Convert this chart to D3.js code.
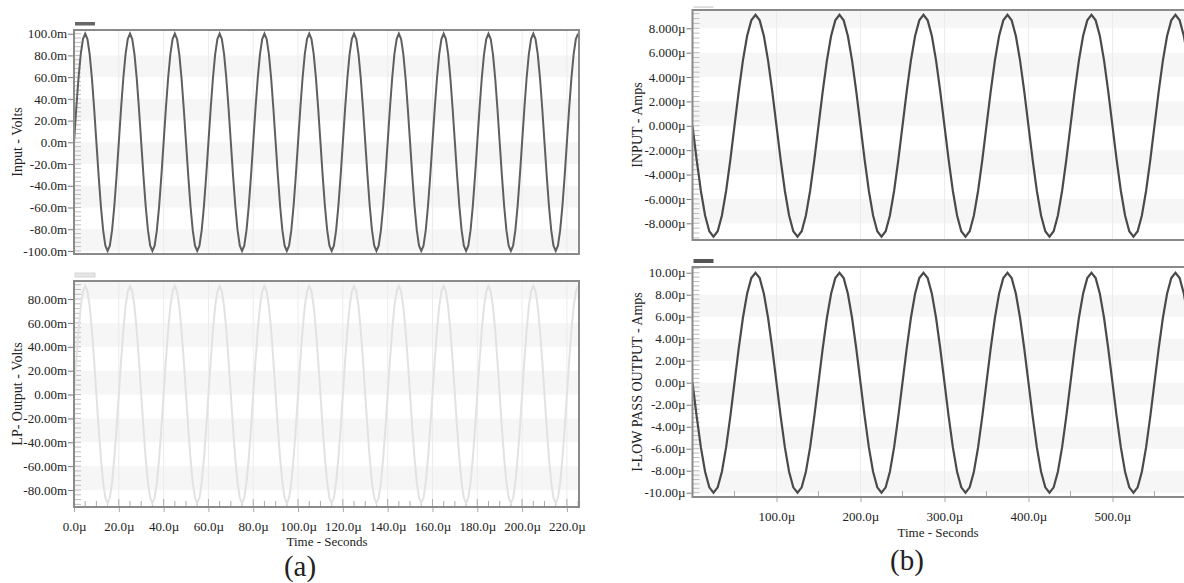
<!DOCTYPE html>
<html>
<head>
<meta charset="utf-8">
<script src="https://cdn.jsdelivr.net/npm/d3@7"></script>
<style>
body { margin: 0; background: #fff; }
svg { display: block; }
text { font-family: "Liberation Serif", "Times New Roman", serif; fill: #222; }
</style>
</head>
<body>
<svg id="chart" width="1184" height="583"></svg>
<script>
// sample step of the two simulations (micro seconds)
var stepA = 1, stepB = 5;

// (a) top : Input - Volts (milli volts)
var inputVolts = [
  0,30.9,58.8,80.9,95.1,100,95.1,80.9,58.8,30.9,0,-30.9,-58.8,-80.9,-95.1,-100,-95.1,-80.9,-58.8,-30.9,
  0,30.9,58.8,80.9,95.1,100,95.1,80.9,58.8,30.9,0,-30.9,-58.8,-80.9,-95.1,-100,-95.1,-80.9,-58.8,-30.9,
  0,30.9,58.8,80.9,95.1,100,95.1,80.9,58.8,30.9,0,-30.9,-58.8,-80.9,-95.1,-100,-95.1,-80.9,-58.8,-30.9,
  0,30.9,58.8,80.9,95.1,100,95.1,80.9,58.8,30.9,0,-30.9,-58.8,-80.9,-95.1,-100,-95.1,-80.9,-58.8,-30.9,
  0,30.9,58.8,80.9,95.1,100,95.1,80.9,58.8,30.9,0,-30.9,-58.8,-80.9,-95.1,-100,-95.1,-80.9,-58.8,-30.9,
  0,30.9,58.8,80.9,95.1,100,95.1,80.9,58.8,30.9,0,-30.9,-58.8,-80.9,-95.1,-100,-95.1,-80.9,-58.8,-30.9,
  0,30.9,58.8,80.9,95.1,100,95.1,80.9,58.8,30.9,0,-30.9,-58.8,-80.9,-95.1,-100,-95.1,-80.9,-58.8,-30.9,
  0,30.9,58.8,80.9,95.1,100,95.1,80.9,58.8,30.9,0,-30.9,-58.8,-80.9,-95.1,-100,-95.1,-80.9,-58.8,-30.9,
  0,30.9,58.8,80.9,95.1,100,95.1,80.9,58.8,30.9,0,-30.9,-58.8,-80.9,-95.1,-100,-95.1,-80.9,-58.8,-30.9,
  0,30.9,58.8,80.9,95.1,100,95.1,80.9,58.8,30.9,0,-30.9,-58.8,-80.9,-95.1,-100,-95.1,-80.9,-58.8,-30.9,
  0,30.9,58.8,80.9,95.1,100,95.1,80.9,58.8,30.9,0,-30.9,-58.8,-80.9,-95.1,-100,-95.1,-80.9,-58.8,-30.9,
  0,30.9,58.8,80.9,95.1,100
];

// (a) bottom : LP- Output - Volts (milli volts)
var lpOutputVolts = [
  0,28.1,53.5,73.6,86.5,91,86.5,73.6,53.5,28.1,0,-28.1,-53.5,-73.6,-86.5,-91,-86.5,-73.6,-53.5,-28.1,
  0,28.1,53.5,73.6,86.5,91,86.5,73.6,53.5,28.1,0,-28.1,-53.5,-73.6,-86.5,-91,-86.5,-73.6,-53.5,-28.1,
  0,28.1,53.5,73.6,86.5,91,86.5,73.6,53.5,28.1,0,-28.1,-53.5,-73.6,-86.5,-91,-86.5,-73.6,-53.5,-28.1,
  0,28.1,53.5,73.6,86.5,91,86.5,73.6,53.5,28.1,0,-28.1,-53.5,-73.6,-86.5,-91,-86.5,-73.6,-53.5,-28.1,
  0,28.1,53.5,73.6,86.5,91,86.5,73.6,53.5,28.1,0,-28.1,-53.5,-73.6,-86.5,-91,-86.5,-73.6,-53.5,-28.1,
  0,28.1,53.5,73.6,86.5,91,86.5,73.6,53.5,28.1,0,-28.1,-53.5,-73.6,-86.5,-91,-86.5,-73.6,-53.5,-28.1,
  0,28.1,53.5,73.6,86.5,91,86.5,73.6,53.5,28.1,0,-28.1,-53.5,-73.6,-86.5,-91,-86.5,-73.6,-53.5,-28.1,
  0,28.1,53.5,73.6,86.5,91,86.5,73.6,53.5,28.1,0,-28.1,-53.5,-73.6,-86.5,-91,-86.5,-73.6,-53.5,-28.1,
  0,28.1,53.5,73.6,86.5,91,86.5,73.6,53.5,28.1,0,-28.1,-53.5,-73.6,-86.5,-91,-86.5,-73.6,-53.5,-28.1,
  0,28.1,53.5,73.6,86.5,91,86.5,73.6,53.5,28.1,0,-28.1,-53.5,-73.6,-86.5,-91,-86.5,-73.6,-53.5,-28.1,
  0,28.1,53.5,73.6,86.5,91,86.5,73.6,53.5,28.1,0,-28.1,-53.5,-73.6,-86.5,-91,-86.5,-73.6,-53.5,-28.1,
  0,28.1,53.5,73.6,86.5,91
];

// (b) top : INPUT - Amps (micro amps)
var inputAmps = [
  0,-2.81,-5.35,-7.36,-8.65,-9.1,-8.65,-7.36,-5.35,-2.81,0,2.81,5.35,7.36,8.65,9.1,8.65,7.36,5.35,2.81,
  0,-2.81,-5.35,-7.36,-8.65,-9.1,-8.65,-7.36,-5.35,-2.81,0,2.81,5.35,7.36,8.65,9.1,8.65,7.36,5.35,2.81,
  0,-2.81,-5.35,-7.36,-8.65,-9.1,-8.65,-7.36,-5.35,-2.81,0,2.81,5.35,7.36,8.65,9.1,8.65,7.36,5.35,2.81,
  0,-2.81,-5.35,-7.36,-8.65,-9.1,-8.65,-7.36,-5.35,-2.81,0,2.81,5.35,7.36,8.65,9.1,8.65,7.36,5.35,2.81,
  0,-2.81,-5.35,-7.36,-8.65,-9.1,-8.65,-7.36,-5.35,-2.81,0,2.81,5.35,7.36,8.65,9.1,8.65,7.36,5.35,2.81,
  0,-2.81,-5.35,-7.36,-8.65,-9.1,-8.65,-7.36,-5.35,-2.81,0,2.81,5.35,7.36,8.65,9.1,8.65,7.36,5.35
];

// (b) bottom : I-LOW PASS OUTPUT - Amps (micro amps)
var lowPassAmps = [
  0,-3.09,-5.88,-8.09,-9.51,-10,-9.51,-8.09,-5.88,-3.09,0,3.09,5.88,8.09,9.51,10,9.51,8.09,5.88,3.09,
  0,-3.09,-5.88,-8.09,-9.51,-10,-9.51,-8.09,-5.88,-3.09,0,3.09,5.88,8.09,9.51,10,9.51,8.09,5.88,3.09,
  0,-3.09,-5.88,-8.09,-9.51,-10,-9.51,-8.09,-5.88,-3.09,0,3.09,5.88,8.09,9.51,10,9.51,8.09,5.88,3.09,
  0,-3.09,-5.88,-8.09,-9.51,-10,-9.51,-8.09,-5.88,-3.09,0,3.09,5.88,8.09,9.51,10,9.51,8.09,5.88,3.09,
  0,-3.09,-5.88,-8.09,-9.51,-10,-9.51,-8.09,-5.88,-3.09,0,3.09,5.88,8.09,9.51,10,9.51,8.09,5.88,3.09,
  0,-3.09,-5.88,-8.09,-9.51,-10,-9.51,-8.09,-5.88,-3.09,0,3.09,5.88,8.09,9.51,10,9.51,8.09,5.88
];

// tick values and labels
var inputVoltTicks = [100,80,60,40,20,0,-20,-40,-60,-80,-100];
var inputVoltLabels = ["100.0m","80.0m","60.0m","40.0m","20.0m","0.0m","-20.0m","-40.0m","-60.0m","-80.0m","-100.0m"];
var lpVoltTicks = [80,60,40,20,0,-20,-40,-60,-80];
var lpVoltLabels = ["80.00m","60.00m","40.00m","20.00m","0.00m","-20.00m","-40.00m","-60.00m","-80.00m"];
var inputAmpTicks = [8,6,4,2,0,-2,-4,-6,-8];
var inputAmpLabels = ["8.000µ","6.000µ","4.000µ","2.000µ","0.000µ","-2.000µ","-4.000µ","-6.000µ","-8.000µ"];
var lowPassAmpTicks = [10,8,6,4,2,0,-2,-4,-6,-8,-10];
var lowPassAmpLabels = ["10.00µ","8.00µ","6.00µ","4.00µ","2.00µ","0.00µ","-2.00µ","-4.00µ","-6.00µ","-8.00µ","-10.00µ"];
var timeTicksA = [0,20,40,60,80,100,120,140,160,180,200,220];
var timeLabelsA = ["0.0µ","20.0µ","40.0µ","60.0µ","80.0µ","100.0µ","120.0µ","140.0µ","160.0µ","180.0µ","200.0µ","220.0µ"];
var timeTicksB = [100,200,300,400,500];
var timeLabelsB = ["100.0µ","200.0µ","300.0µ","400.0µ","500.0µ"];

// shaded stripes between grid rows
var inputVoltBands = [[60,80],[20,40],[-20,0],[-60,-40],[-100,-80]];
var lpVoltBands = [[80,100],[40,60],[0,20],[-40,-20],[-80,-60]];
var inputAmpBands = [[8,10],[4,6],[0,2],[-4,-2],[-8,-6]];
var lowPassAmpBands = [[6,8],[2,4],[-2,0],[-6,-4],[-10,-8]];

var svg = d3.select("#chart");

var panels = [
  { id: "a1", left: 74, right: 579, top: 30, bottom: 254, xDom: [0, 225.4], yDom: [-102.8, 103.4],
    values: inputVolts, step: stepA, color: "#5f5f5f", width: 2,
    yTicks: inputVoltTicks, yLabels: inputVoltLabels, minor: 4, bands: inputVoltBands,
    grid: timeTicksA, title: "Input - Volts", titleX: 17,
    legend: { y: 22, h: 3.5, color: "#666", stroke: "none" } },
  { id: "a2", left: 74, right: 579, top: 281, bottom: 507, xDom: [0, 225.4], yDom: [-94.2, 95.1],
    values: lpOutputVolts, step: stepA, color: "#e2e2e2", width: 2,
    yTicks: lpVoltTicks, yLabels: lpVoltLabels, minor: 4, bands: lpVoltBands,
    grid: timeTicksA, title: "LP- Output - Volts", titleX: 17,
    xTicks: timeTicksA, xLabels: timeLabelsA, xMinor: 5, xPad: 10,
    legend: { y: 273, h: 4, color: "#e6e6e6", stroke: "#cfcfcf" } },
  { id: "b1", left: 692.5, right: 1190, top: 10, bottom: 240, xDom: [0, 592.3], yDom: [-9.37, 9.5],
    values: inputAmps, step: stepB, color: "#4a4a4a", width: 2.2,
    yTicks: inputAmpTicks, yLabels: inputAmpLabels, minor: 0.4, bands: inputAmpBands,
    grid: timeTicksB, title: "INPUT - Amps", titleX: 637,
    legend: { y: 6.5, h: 1.2, color: "#c8c8c8", stroke: "none" } },
  { id: "b2", left: 692.5, right: 1190, top: 267, bottom: 497, xDom: [0, 592.3], yDom: [-10.39, 10.52],
    values: lowPassAmps, step: stepB, color: "#4a4a4a", width: 2.2,
    yTicks: lowPassAmpTicks, yLabels: lowPassAmpLabels, minor: 0.4, bands: lowPassAmpBands,
    grid: timeTicksB, title: "I-LOW PASS OUTPUT - Amps", titleX: 637,
    xTicks: timeTicksB, xLabels: timeLabelsB, xMinor: 50, xMinorOdd: true, xPad: 10,
    legend: { y: 259, h: 4, color: "#555", stroke: "none" } }
];

panels.forEach(function(p) {
  var x = d3.scaleLinear().domain(p.xDom).range([p.left, p.right]);
  var y = d3.scaleLinear().domain(p.yDom).range([p.bottom, p.top]);
  var g = svg.append("g");

  g.append("clipPath").attr("id", "clip-" + p.id)
    .append("rect")
    .attr("x", p.left).attr("y", p.top)
    .attr("width", p.right - p.left).attr("height", p.bottom - p.top);

  var inner = g.append("g").attr("clip-path", "url(#clip-" + p.id + ")");

  // grey stripes
  inner.selectAll("rect.band").data(p.bands).join("rect")
    .attr("class", "band")
    .attr("x", p.left).attr("width", p.right - p.left)
    .attr("y", function(d) { return y(d[1]); })
    .attr("height", function(d) { return y(d[0]) - y(d[1]); })
    .attr("fill", "#f6f6f6");

  // faint vertical grid
  inner.selectAll("line.vgrid").data(p.grid).join("line")
    .attr("class", "vgrid")
    .attr("x1", function(d) { return x(d); }).attr("x2", function(d) { return x(d); })
    .attr("y1", p.top).attr("y2", p.bottom)
    .attr("stroke", "#ececec").attr("stroke-width", 1);

  // minor y ticks inside the frame
  var minorY = d3.range(Math.ceil(p.yDom[0] / p.minor), Math.floor(p.yDom[1] / p.minor) + 1)
    .map(function(k) { return k * p.minor; });
  inner.selectAll("line.ymin").data(minorY).join("line")
    .attr("class", "ymin")
    .attr("x1", p.left).attr("x2", p.left + 7)
    .attr("y1", function(d) { return y(d); }).attr("y2", function(d) { return y(d); })
    .attr("stroke", "#bdbdbd").attr("stroke-width", 1);

  // minor x ticks inside the frame
  if (p.xMinor) {
    var minorX = d3.range(0, p.xDom[1], p.xMinor).filter(function(v, i) {
      return p.xMinorOdd ? i % 2 === 1 : true;
    });
    inner.selectAll("line.xmin").data(minorX).join("line")
      .attr("class", "xmin")
      .attr("x1", function(d) { return x(d); }).attr("x2", function(d) { return x(d); })
      .attr("y1", p.bottom).attr("y2", function(d, i) {
        return p.bottom - (!p.xMinorOdd && d % 20 === 0 ? 8 : 6);
      })
      .attr("stroke", "#aaa").attr("stroke-width", 1);
  }

  // waveform
  var line = d3.line()
    .x(function(d, i) { return x(i * p.step); })
    .y(function(d) { return y(d); });
  inner.append("path")
    .datum(p.values)
    .attr("d", line)
    .attr("fill", "none")
    .attr("stroke", p.color)
    .attr("stroke-width", p.width)
    .attr("stroke-linejoin", "miter");

  // frame
  g.append("rect")
    .attr("x", p.left).attr("y", p.top)
    .attr("width", p.right - p.left).attr("height", p.bottom - p.top)
    .attr("fill", "none").attr("stroke", "#8a8a8a").attr("stroke-width", 2);

  // y axis labels
  var yAxis = d3.axisLeft(y)
    .tickValues(p.yTicks)
    .tickFormat(function(d, i) { return p.yLabels[i]; })
    .tickSize(5).tickPadding(1);
  var ya = g.append("g").attr("transform", "translate(" + (p.left - 1) + ",0)").call(yAxis);
  ya.select(".domain").remove();
  ya.selectAll(".tick line").attr("stroke", "#777");
  ya.selectAll("text").attr("font-size", 13).attr("font-family", "Liberation Serif").attr("fill", "#222");

  // x axis labels
  if (p.xTicks) {
    var xAxis = d3.axisBottom(x)
      .tickValues(p.xTicks)
      .tickFormat(function(d, i) { return p.xLabels[i]; })
      .tickSize(4).tickPadding(p.xPad);
    var xa = g.append("g").attr("transform", "translate(0," + (p.bottom + 1) + ")").call(xAxis);
    xa.select(".domain").remove();
    xa.selectAll(".tick line").attr("stroke", "#aaa");
    xa.selectAll("text").attr("font-size", 13).attr("font-family", "Liberation Serif").attr("fill", "#222");
  }

  // y axis title
  g.append("text")
    .attr("transform", "translate(" + p.titleX + "," + ((p.top + p.bottom) / 2) + ") rotate(-90)")
    .attr("text-anchor", "middle")
    .attr("dy", "0.35em")
    .attr("font-size", 14)
    .text(p.title);

  // legend swatch above the frame
  g.append("rect")
    .attr("x", p.left + 1).attr("y", p.legend.y)
    .attr("width", 20).attr("height", p.legend.h)
    .attr("fill", p.legend.color)
    .attr("stroke", p.legend.stroke).attr("stroke-width", 0.8);
});

// axis titles and panel letters
svg.append("text").attr("x", 327).attr("y", 546).attr("text-anchor", "middle")
  .attr("font-size", 13).text("Time - Seconds");
svg.append("text").attr("x", 938).attr("y", 537).attr("text-anchor", "middle")
  .attr("font-size", 13).text("Time - Seconds");
svg.append("text").attr("x", 300).attr("y", 576).attr("text-anchor", "middle")
  .attr("font-size", 29).text("(a)");
svg.append("text").attr("x", 907).attr("y", 570).attr("text-anchor", "middle")
  .attr("font-size", 29).text("(b)");
</script>
</body>
</html>
